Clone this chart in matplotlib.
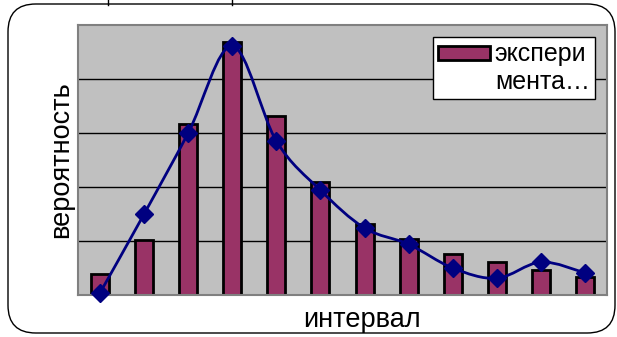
import matplotlib
matplotlib.use("Agg")
import matplotlib.pyplot as plt
from matplotlib.path import Path
from matplotlib.patches import PathPatch, FancyBboxPatch, Rectangle
from matplotlib.legend_handler import HandlerPatch
from matplotlib.lines import Line2D
import numpy as np

plt.rcParams['font.family'] = ['Liberation Sans', 'DejaVu Sans']

# data
intervals = list(range(1, 13))
experiment = [0.39, 1.02, 3.17, 4.69, 3.31, 2.09, 1.31, 1.04, 0.76, 0.61, 0.46, 0.33]
theory = [0.04, 1.50, 3.00, 4.61, 2.85, 1.94, 1.24, 0.94, 0.50, 0.31, 0.61, 0.41]
legend_label = "экспери\nмента…"
xlabel = "интервал"
ylabel = "вероятность"


def smooth_path(xs, ys):
    # catmull-rom style bezier through the points (like excel's smoothed line)
    pts = np.column_stack([xs, ys]).astype(float)
    n = len(pts)
    verts = [pts[0]]
    codes = [Path.MOVETO]
    for i in range(n - 1):
        p0 = pts[i - 1] if i > 0 else pts[i]
        p1 = pts[i]
        p2 = pts[i + 1]
        p3 = pts[i + 2] if i + 2 < n else pts[i + 1]
        c1 = p1 + (p2 - p0) / 6.0
        c2 = p2 - (p3 - p1) / 6.0
        verts += [c1, c2, p2]
        codes += [Path.CURVE4] * 3
    return Path(verts, codes)


def swatch_top(legend, orig_handle, xdescent, ydescent, width, height, fontsize):
    # put the swatch next to the first line of the label
    return Rectangle((-xdescent, -ydescent + 0.62 * fontsize), width, height)


fig = plt.figure(figsize=(6.17, 3.37), dpi=100)

# rounded outer frame
frame = FancyBboxPatch((8 / 617, 4 / 337), 607 / 617, 329 / 337,
                       boxstyle="round,pad=0,rounding_size=0.045",
                       transform=fig.transFigure, fill=False,
                       edgecolor='black', linewidth=1.0, mutation_aspect=617 / 337)
fig.patches.append(frame)
# stubs of something above the chart
fig.add_artist(Line2D([108 / 617, 108 / 617], [1, 1 - 5 / 337], transform=fig.transFigure, color='black', lw=1))
fig.add_artist(Line2D([232 / 617, 232 / 617], [1, 1 - 5 / 337], transform=fig.transFigure, color='black', lw=1))

ax = fig.add_axes([78 / 617, 42 / 337, 529 / 617, 270 / 337])
ax.set_facecolor('#C0C0C0')
for s in ax.spines.values():
    s.set_color('#808080')
    s.set_linewidth(1.5)

ax.set_xlim(0.5, 12.5)
ax.set_ylim(0, 5)
ax.set_yticks([1, 2, 3, 4])
ax.yaxis.grid(True, color='black', linewidth=1.0)
ax.set_axisbelow(True)
ax.tick_params(left=False, bottom=False, labelleft=False, labelbottom=False)

bars = ax.bar(intervals, experiment, width=0.41, color='#993366', edgecolor='black',
              linewidth=2.0, zorder=2)

ax.add_patch(PathPatch(smooth_path(intervals, theory), fill=False,
                       edgecolor='#000080', linewidth=2.0, zorder=3))
ax.plot(intervals, theory, linestyle='none', marker='D', markersize=9,
        color='#000080', zorder=4, clip_on=False)

ax.set_xlabel(xlabel, fontsize=19.5)
ax.xaxis.set_label_coords(0.537, -0.045, transform=ax.transAxes)
ax.xaxis.label.set_va('top')
ax.set_ylabel(ylabel, fontsize=19.5, labelpad=3)

h = bars.patches[0]
leg = ax.legend([h], [legend_label], loc='upper right', bbox_to_anchor=(0.977, 0.955),
                fontsize=18, frameon=True, fancybox=False, handlelength=2.08,
                handleheight=0.48, handletextpad=0.2, borderpad=0.2, borderaxespad=0,
                handler_map={h: HandlerPatch(patch_func=swatch_top)})
leg.get_frame().set_edgecolor('black')
leg.get_frame().set_linewidth(1.0)
leg.get_frame().set_facecolor('white')
leg.get_frame().set_alpha(1)

fig.savefig('out.png', dpi=100)
